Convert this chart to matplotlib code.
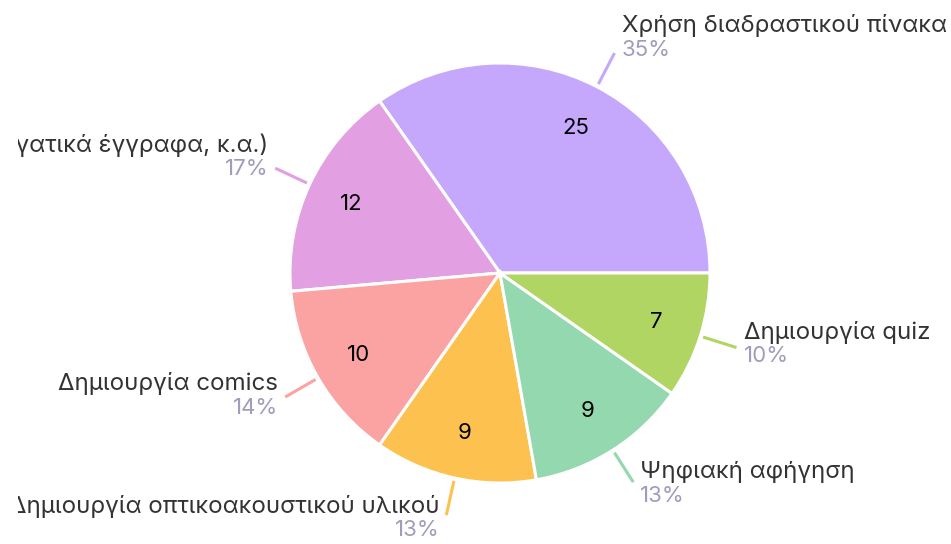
import math
import numpy as np
import matplotlib
matplotlib.use("Agg")
from matplotlib import pyplot as plt
from matplotlib.transforms import Bbox, TransformedBbox

plt.rcParams['font.family'] = ['Inter', 'DejaVu Sans']

labels = [
    "Χρήση διαδραστικού πίνακα",
    "Χρήση εφαρμογών (π.χ. συνεργατικά έγγραφα, κ.α.)",
    "Δημιουργία comics",
    "Δημιουργία οπτικοακουστικού υλικού",
    "Ψηφιακή αφήγηση",
    "Δημιουργία quiz",
]
values = [25, 12, 10, 9, 9, 7]
colors = ["#c5a8fc", "#e29fe2", "#fba3a3", "#fdc150", "#93d8ae", "#b1d563"]

W, H = 951, 544
cx, cy = 500, 271
R = 210

fig = plt.figure(figsize=(W / 100, H / 100), dpi=100)
ax = fig.add_axes([0, 0, 1, 1])
total = sum(values)

wedges, _, autotexts = ax.pie(
    values, colors=colors, startangle=0, counterclock=True,
    center=(cx, cy), radius=R,
    autopct=lambda p: "{:.0f}".format(p * total / 100),
    pctdistance=0.78,
    wedgeprops=dict(edgecolor="white", linewidth=2.2),
    textprops=dict(fontsize=16, color="black"),
)

ax.set_xlim(0, W)
ax.set_ylim(0, H)
ax.set_aspect('auto')
ax.axis('off')

# the reference cuts long labels at its own padded edge
clip = TransformedBbox(Bbox([[18, 0], [W - 3, H]]), ax.transData)

for w, lab, col in zip(wedges, labels, colors):
    ang = np.deg2rad((w.theta1 + w.theta2) / 2)
    c, s = np.cos(ang), np.sin(ang)
    x0, y0 = cx + 213 * c, cy + 213 * s
    x1, y1 = cx + 248 * c, cy + 248 * s
    ax.plot([x0, x1], [y0, y1], color=col, lw=2.2, solid_capstyle='butt')
    right = c >= 0
    tx = x1 + 7 if right else x1 - 7
    ha = 'left' if right else 'right'
    py = y1 - 5.5 + 10 * s
    pct = math.floor(100 * (w.theta2 - w.theta1) / 360 + 0.5)
    t1 = ax.text(tx, py + 24, lab, ha=ha, va='center', fontsize=17.4, color="#333333")
    t2 = ax.text(tx, py, "{}%".format(pct), ha=ha, va='center', fontsize=16, color="#a09cbb")
    for t in (t1, t2):
        t.set_clip_box(clip)
        t.set_clip_on(True)

fig.savefig("out.png", dpi=100)
